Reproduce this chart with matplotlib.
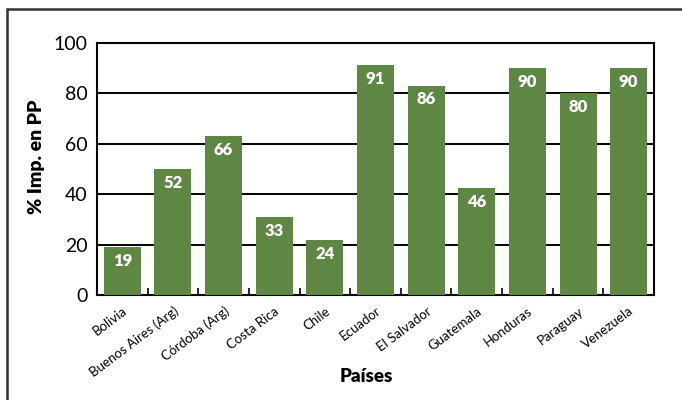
import matplotlib
matplotlib.use("Agg")
import matplotlib.pyplot as plt
from matplotlib.patches import Rectangle
import numpy as np

plt.rcParams['font.family'] = ['Lato', 'DejaVu Sans']

paises = ['Bolivia', 'Buenos Aires (Arg)', 'Córdoba (Arg)', 'Costa Rica', 'Chile',
          'Ecuador', 'El Salvador', 'Guatemala', 'Honduras', 'Paraguay', 'Venezuela']
# bar heights as drawn in the picture
alturas = [19.2, 50, 63, 31, 21.7, 91.1, 83.1, 42.4, 90, 80, 90]
# numbers printed on the bars
etiquetas = [19, 52, 66, 33, 24, 91, 86, 46, 90, 80, 90]
yticks = [0, 20, 40, 60, 80, 100]

verde = '#5e8744'

fig = plt.figure(figsize=(6.82, 4.0), dpi=100)
ax = fig.add_axes([97/682, 1 - 295/400, (654-97)/682, (295-43)/400])

x = np.arange(len(paises))
ax.bar(x, alturas, width=0.73, color=verde, zorder=3)

for xi, h, lab in zip(x, alturas, etiquetas):
    ax.annotate(str(lab), (xi, h), xytext=(0, -10), textcoords='offset points',
                ha='center', va='center', color='white', fontsize=12,
                fontweight='heavy', zorder=4)

ax.set_xlim(-0.5, len(paises) - 0.5)
ax.set_ylim(0, 100)
ax.set_yticks(yticks)
ax.tick_params(axis='y', length=0, labelsize=14, pad=7)
ax.yaxis.grid(True, color='black', linewidth=1.4, zorder=0)
ax.set_axisbelow(True)

ax.set_xticks(np.arange(-0.5, len(paises), 1.0))
ax.set_xticklabels([])
ax.tick_params(axis='x', direction='in', length=5, width=1.2)
ax.set_xticks(x, minor=True)
ax.set_xticklabels(paises, minor=True, rotation=37, ha='right',
                   rotation_mode='anchor', fontsize=9.5)
ax.tick_params(axis='x', which='minor', length=0, pad=7)

for s in ax.spines.values():
    s.set_linewidth(1.5)
    s.set_color('black')

ax.set_ylabel('% Imp. en PP', fontsize=14, fontweight='heavy')
ax.yaxis.set_label_coords(-0.093, 0.55)
fig.text(366/682, 1 - 377/400, 'Países', ha='center', va='center',
         fontsize=13.5, fontweight='heavy')

# outer frame
fig.patches.append(Rectangle((7/682, -0.1), 1.2, 1.1 - 9/400,
                             transform=fig.transFigure, fill=False,
                             edgecolor='#333333', linewidth=1.8))

fig.savefig('out.png', dpi=100)
